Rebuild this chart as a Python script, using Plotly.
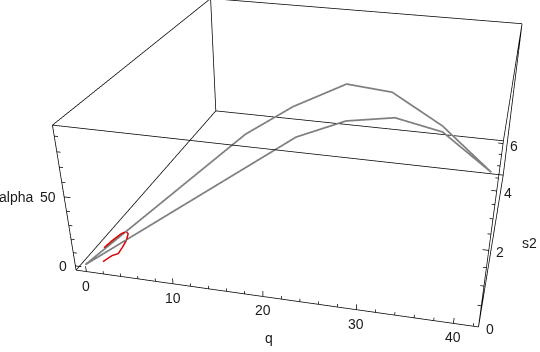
import plotly.graph_objects as go

# ---------------- data ----------------
upper_q     = [0.0, 14.6, 19.0, 24.1, 28.8, 34.7, 41.5]
upper_s2    = [0.0, 1.60, 2.08, 2.64, 3.16, 3.81, 4.55]
upper_alpha = [2.0, 71.0, 84.1, 93.3, 81.7, 48.6, 0.0]

lower_q     = [0.0, 19.3, 24.2, 29.3, 34.8, 41.5]
lower_s2    = [0.0, 2.12, 2.65, 3.21, 3.82, 4.55]
lower_alpha = [2.0, 62.1, 67.0, 62.4, 43.7, 0.0]

red_q     = [1.47, 2.28, 2.81, 3.21, 3.61, 3.85, 3.70, 3.27, 2.44, 1.71]
red_s2    = [0.16, 0.25, 0.31, 0.35, 0.40, 0.42, 0.41, 0.36, 0.27, 0.19]
red_alpha = [1.2, 4.1, 4.5, 8.3, 12.7, 17.5, 19.3, 18.6, 15.0, 11.2]

# plot box extents and ticks
q_box     = [-1.21, 42.53]
s2_box    = [0.0, 6.127]
alpha_box = [-3.23, 96.83]

q_major     = [0, 10, 20, 30, 40]
q_minor     = [2, 4, 6, 8, 12, 14, 16, 18, 22, 24, 26, 28, 32, 34, 36, 38, 42]
alpha_major = [0, 50]
alpha_minor = [10, 20, 30, 40, 60, 70, 80, 90]
s2_major    = [0, 2, 4, 6]
s2_minor    = [0.5, 1, 1.5, 2.5, 3, 3.5, 4.5, 5, 5.5]

q_ticktext     = ["0", "10", "20", "30", "40"]
alpha_ticktext = ["0", "50"]
s2_ticktext    = ["0", "2", "4", "6"]

# ---------------- figure ----------------
q0, q1 = q_box
s0, s1 = s2_box
a0, a1 = alpha_box

# axis ranges padded a hair beyond the frame so frame lines are not clipped
EPS = 0.002
def padded(lo, hi):
    p = EPS * (hi - lo)
    return [lo - p, hi + p]
SCALE = 1 + 2 * EPS

fig = go.Figure()

# bounding box (12 edges)
bx, by, bz = [], [], []
xs, ys, zs = [q0, q1], [s0, s1], [a0, a1]
for i in (0, 1):
    for j in (0, 1):
        for k in (0, 1):
            for di, dj, dk in ((1, 0, 0), (0, 1, 0), (0, 0, 1)):
                if i + di <= 1 and j + dj <= 1 and k + dk <= 1:
                    bx += [xs[i], xs[i + di], None]
                    by += [ys[j], ys[j + dj], None]
                    bz += [zs[k], zs[k + dk], None]
fig.add_trace(go.Scatter3d(x=bx, y=by, z=bz, mode='lines',
                           line=dict(color='black', width=1.5),
                           showlegend=False, hoverinfo='skip'))

# tick marks
tx, ty, tz = [], [], []
for vals, ln in ((q_major, 4.0), (q_minor, 2.2)):
    for v in vals:
        tx += [v, v, None]; ty += [s0, s0, None]; tz += [a0, a0 + ln, None]
for vals, ln in ((alpha_major, 0.7), (alpha_minor, 0.4)):
    for v in vals:
        tx += [q0, q0 + ln, None]; ty += [s0, s0, None]; tz += [v, v, None]
for vals, ln in ((s2_major, 0.7), (s2_minor, 0.4)):
    for v in vals:
        tx += [q1, q1 - ln, None]; ty += [v, v, None]; tz += [a0, a0, None]
fig.add_trace(go.Scatter3d(x=tx, y=ty, z=tz, mode='lines',
                           line=dict(color='black', width=1.5),
                           showlegend=False, hoverinfo='skip'))

# data curves
fig.add_trace(go.Scatter3d(x=upper_q, y=upper_s2, z=upper_alpha, mode='lines',
                           line=dict(color='#808080', width=3.5), showlegend=False))
fig.add_trace(go.Scatter3d(x=lower_q, y=lower_s2, z=lower_alpha, mode='lines',
                           line=dict(color='#808080', width=3.5), showlegend=False))
fig.add_trace(go.Scatter3d(x=red_q, y=red_s2, z=red_alpha, mode='lines',
                           line=dict(color='#e00000', width=3), showlegend=False))

# text (tick labels & axis labels) as scene annotations
tfont = dict(family='Liberation Sans, Arial, sans-serif', size=14, color='#1a1a1a')
ann = []
for v, t in zip(q_major, q_ticktext):
    ann.append(dict(x=v, y=s0, z=a0, text=t, showarrow=False, xanchor='center',
                    yanchor='middle', yshift=-14, font=tfont))
for v, t in zip(alpha_major, alpha_ticktext):
    ann.append(dict(x=q0, y=s0, z=v, text=t, showarrow=False, xanchor='right',
                    yanchor='middle', xshift=-6, font=tfont))
for v, t in zip(s2_major, s2_ticktext):
    ann.append(dict(x=q1, y=v, z=a0, text=t, showarrow=False, xanchor='left',
                    yanchor='middle', xshift=5, yshift=-2, font=tfont))
ann.append(dict(x=(q0 + q1) / 2, y=s0, z=a0, text='q', showarrow=False,
                xanchor='center', yanchor='middle', yshift=-41, font=tfont))
ann.append(dict(x=q0, y=s0, z=50, text='alpha', showarrow=False,
                xanchor='right', yanchor='middle', xshift=-29, font=tfont))
ann.append(dict(x=q1, y=(s0 + s1) / 2, z=a0, text='s2', showarrow=False,
                xanchor='left', yanchor='middle', xshift=27, yshift=-26, font=tfont))

hidden = dict(showbackground=False, showgrid=False, zeroline=False, showspikes=False,
              showticklabels=False, ticks='', title='', showline=False)

fig.update_layout(
    width=614, height=722,
    margin=dict(l=0, r=0, t=0, b=0),
    paper_bgcolor='white',
    hovermode=False,
    scene=dict(
        domain=dict(x=[0, 1], y=[0, 1]),
        xaxis=dict(range=padded(q0, q1), **hidden),
        yaxis=dict(range=padded(s0, s1), **hidden),
        zaxis=dict(range=padded(a0, a1), **hidden),
        aspectmode='manual',
        aspectratio=dict(x=1 * SCALE, y=1.1303 * SCALE, z=0.3765 * SCALE),
        camera=dict(eye=dict(x=0.4737, y=-2.2757, z=0.9403),
                    center=dict(x=0.0407, y=-0.3100, z=-0.5551),
                    up=dict(x=-0.1491, y=0.5777, z=0.8025),
                    projection=dict(type='perspective')),
        annotations=ann,
    ),
)

fig.write_html("out.html")
